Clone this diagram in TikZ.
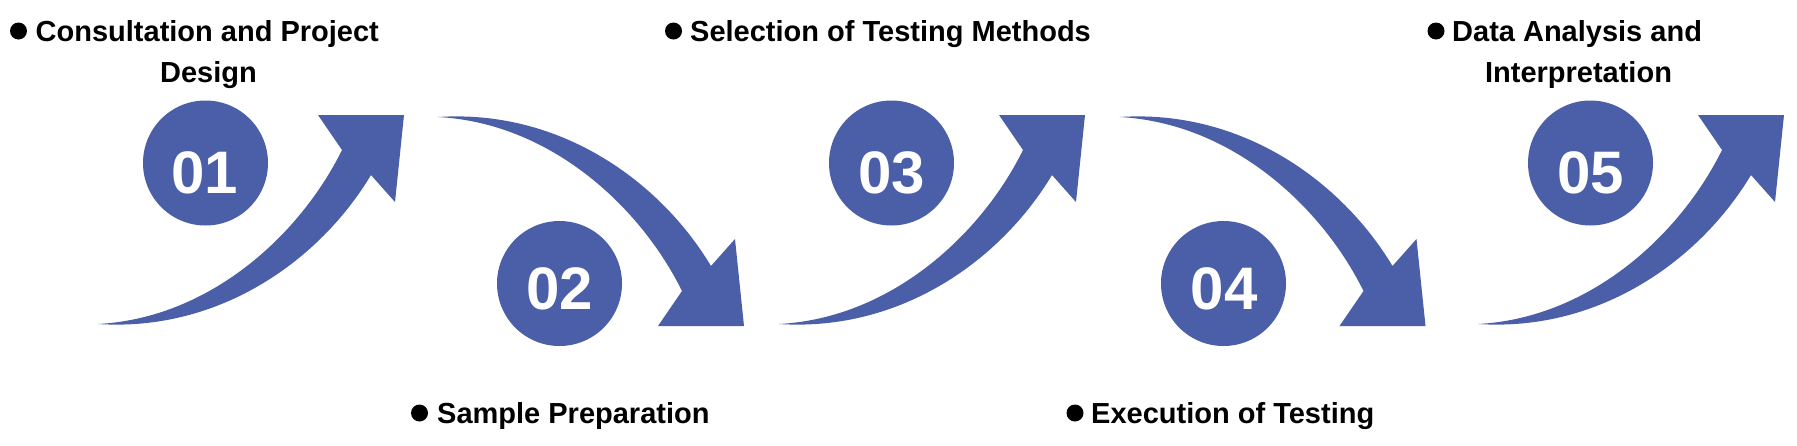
\documentclass[tikz,border=0pt]{standalone}
\usepackage{fontspec}
\setmainfont{Liberation Sans}
\definecolor{stepblue}{RGB}{75,94,168}
\tikzset{
  lbl/.style={inner sep=0pt, anchor=base west, font=\bfseries\fontsize{29}{34}\selectfont},
  lblc/.style={inner sep=0pt, anchor=base, font=\bfseries\fontsize{29}{34}\selectfont},
  bulletdot/.style={circle, fill=black, inner sep=0pt, minimum size=17pt},
  numcirc/.style={circle, fill=stepblue, inner sep=0pt, minimum size=125pt},
  numtxt/.style={inner sep=0pt, anchor=base, text=white, font=\bfseries\fontsize{60}{62}\selectfont},
  arrowfill/.style={fill=stepblue},
}
\newcommand{\curvedarrowshape}{%
  \fill[arrowfill] (98,324) .. controls (210,318) and (300,235) .. (342,150)
    -- (318,115) -- (404,115) -- (395,202) -- (371,175)
    .. controls (320,260) and (220,332) .. (98,324) -- cycle;}
\begin{document}
\begin{tikzpicture}[x=1pt,y=-1pt]
\useasboundingbox (0,0) rectangle (1797,445);
\fill[white] (0,0) rectangle (1797,445);

% arrows
\curvedarrowshape
\begin{scope}[shift={(340,441)}, yscale=-1]\curvedarrowshape\end{scope}
\begin{scope}[shift={(681,0)}]\curvedarrowshape\end{scope}
\begin{scope}[shift={(1021.5,441)}, yscale=-1]\curvedarrowshape\end{scope}
\begin{scope}[shift={(1380,0)}]\curvedarrowshape\end{scope}

% circles
\node[numcirc] (c1) at (205.5,163) {};
\node[numcirc] (c2) at (559.5,283.5) {};
\node[numcirc] (c3) at (891.5,163) {};
\node[numcirc] (c4) at (1223.5,283.5) {};
\node[numcirc] (c5) at (1590.5,163) {};
\node[numtxt] (n1) at (204.5,193) {01};
\node[numtxt] (n2) at (559.5,309) {02};
\node[numtxt] (n3) at (891.5,193) {03};
\node[numtxt] (n4) at (1224,309) {04};
\node[numtxt] (n5) at (1590.5,193) {05};

% labels
\node[bulletdot] (b1) at (18.5,31) {};
\node[lbl] (l1) at (35.5,41) {Consultation and Project};
\node[lblc] (l1b) at (208.5,82) {Design};
\node[bulletdot] (b2) at (673.5,31) {};
\node[lbl] (l2) at (690,41) {Selection of Testing Methods};
\node[bulletdot] (b3) at (419.5,413) {};
\node[lbl] (l3) at (437,423) {Sample Preparation};
\node[bulletdot] (b4) at (1075,413) {};
\node[lbl] (l4) at (1091,423) {Execution of Testing};
\node[bulletdot] (b5) at (1436,31) {};
\node[lbl] (l5) at (1452,41) {Data Analysis and};
\node[lblc] (l5b) at (1578.5,82) {Interpretation};
\end{tikzpicture}
\end{document}
